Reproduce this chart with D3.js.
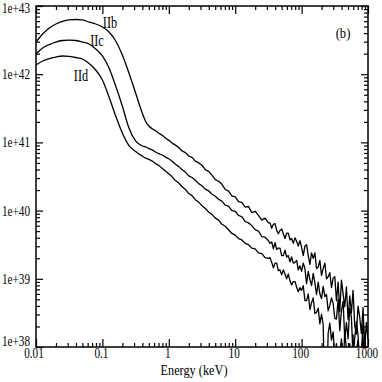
<!DOCTYPE html>
<html>
<head>
<meta charset="utf-8">
<script src="https://cdn.jsdelivr.net/npm/d3@7"></script>
<style>
  html, body { margin: 0; padding: 0; background: #fff; }
  text { font-family: "Liberation Serif", "DejaVu Serif", serif; }
</style>
</head>
<body>
<svg id="chart" width="382" height="382"></svg>
<script>
// Energy grid, log10(keV): coarse on the smooth part, finer where the curves get noisy
const logE = [
  -2, -1.9, -1.8, -1.7, -1.6, -1.5, -1.4, -1.3, -1.2, -1.1, -1, -0.9, -0.8, -0.7, -0.6, -0.5, -0.4,
  -0.35, -0.3, -0.25, -0.2, -0.15, -0.1, -0.05, 0,
  0.05, 0.1, 0.15, 0.2, 0.25, 0.3, 0.35, 0.4, 0.45, 0.5,
  0.55, 0.6, 0.65, 0.7, 0.75, 0.8, 0.85, 0.9, 0.95, 1,
  1.05, 1.1, 1.15, 1.2, 1.25, 1.3, 1.35, 1.4, 1.45, 1.5,
  1.525, 1.55, 1.575, 1.6, 1.625, 1.65, 1.675, 1.7, 1.725, 1.75,
  1.775, 1.8, 1.825, 1.85, 1.875, 1.9, 1.925, 1.95, 1.975, 2,
  2.025, 2.05, 2.075, 2.1, 2.125, 2.15, 2.175, 2.2, 2.225, 2.25,
  2.275, 2.3, 2.325, 2.35, 2.375, 2.4, 2.425, 2.45, 2.475, 2.5,
  2.525, 2.55, 2.575, 2.6, 2.625, 2.65, 2.675, 2.7, 2.725, 2.75,
  2.775, 2.8, 2.825, 2.85, 2.875, 2.9, 2.925, 2.95, 2.975, 3
];

// log10 luminosity of each model
const IIb = [
  42.472, 42.589, 42.677, 42.736, 42.773, 42.795, 42.802, 42.795, 42.765, 42.736, 42.692, 42.619, 42.487, 42.282, 42.018, 41.724, 41.431,
  41.31, 41.24, 41.20, 41.17, 41.135, 41.105, 41.065, 41.03,
  40.99, 40.96, 40.925, 40.875, 40.85, 40.80, 40.78, 40.725, 40.70, 40.665,
  40.60, 40.575, 40.52, 40.455, 40.43, 40.385, 40.31, 40.285, 40.215, 40.20,
  40.13, 40.12, 40.05, 40.06, 39.97, 39.99, 39.93, 39.86, 39.89, 39.82,
  39.82, 39.74, 39.80, 39.81, 39.71, 39.66, 39.71, 39.73, 39.66, 39.59,
  39.67, 39.67, 39.57, 39.59, 39.52, 39.60, 39.55, 39.48, 39.56, 39.46,
  39.34, 39.48, 39.50, 39.34, 39.21, 39.38, 39.30, 39.38, 39.15, 39.17,
  39.27, 39.05, 39.15, 39.23, 39.00, 39.03, 39.09, 38.87, 39.01, 39.03,
  38.68, 38.95, 38.52, 38.98, 38.78, 38.59, 38.88, 38.40, 38.75, 38.50,
  38.83, 38.31, 38.19, 38.60, 38.44, 38.20, 38.58, 37.97, 38.36, 38.11
];
const IIc = [
  42.296, 42.384, 42.435, 42.472, 42.494, 42.501, 42.494, 42.472, 42.443, 42.370, 42.267, 42.091, 41.827, 41.534, 41.211, 41.021, 40.947,
  40.935, 40.91, 40.89, 40.86, 40.835, 40.815, 40.785, 40.76,
  40.725, 40.68, 40.645, 40.60, 40.565, 40.51, 40.485, 40.445, 40.395, 40.365,
  40.315, 40.29, 40.24, 40.21, 40.165, 40.14, 40.08, 40.065, 40.00, 39.99,
  39.93, 39.91, 39.84, 39.82, 39.78, 39.72, 39.70, 39.62, 39.61, 39.56,
  39.52, 39.54, 39.44, 39.53, 39.43, 39.45, 39.45, 39.34, 39.34, 39.42,
  39.32, 39.34, 39.25, 39.32, 39.23, 39.24, 39.27, 39.13, 39.19, 39.11,
  39.23, 39.15, 38.93, 39.11, 38.99, 38.90, 39.08, 38.94, 38.77, 38.95,
  38.78, 38.71, 38.89, 38.74, 38.77, 38.53, 38.61, 38.72, 38.64, 38.42,
  38.41, 38.70, 38.24, 38.53, 38.67, 38.11, 38.36, 38.12, 38.57, 38.44,
  37.84, 38.13, 38.37, 38.17, 37.75, 37.89, 38.35, 38.14, 37.65, 38.01
];
const IId = [
  42.135, 42.194, 42.230, 42.252, 42.267, 42.260, 42.245, 42.223, 42.157, 42.062, 41.915, 41.666, 41.387, 41.138, 40.954, 40.867, 40.80,
  40.77, 40.75, 40.725, 40.69, 40.66, 40.62, 40.58, 40.54,
  40.495, 40.44, 40.405, 40.35, 40.31, 40.25, 40.22, 40.16, 40.125, 40.07,
  40.03, 39.98, 39.945, 39.89, 39.86, 39.80, 39.77, 39.72, 39.665, 39.64,
  39.59, 39.57, 39.52, 39.50, 39.45, 39.44, 39.38, 39.37, 39.31, 39.30,
  39.31, 39.24, 39.16, 39.23, 39.23, 39.12, 39.13, 39.06, 39.13, 39.07,
  39.00, 39.07, 38.97, 38.91, 38.96, 38.96, 38.88, 38.81, 38.87, 38.83,
  38.90, 38.68, 38.68, 38.78, 38.55, 38.65, 38.72, 38.49, 38.51, 38.57,
  38.34, 38.48, 38.33, 37.20, 37.20, 38.20, 38.35, 38.10, 38.22, 37.85,
  38.05, 37.40, 37.90, 38.12, 37.60, 38.25, 37.95, 37.40, 38.05, 37.70,
  38.18, 37.50, 37.95, 38.10, 37.40, 37.90, 38.15, 37.60, 38.00, 37.70
];

const seriesNames = ["IIb", "IIc", "IId"];
const xTickLabels = ["0.01", "0.1", "1", "10", "100", "1000"];
const yTickLabels = ["1e+38", "1e+39", "1e+40", "1e+41", "1e+42", "1e+43"];

// Plot frame
const frame = { left: 36, right: 368, top: 6, bottom: 347 };

const x = d3.scaleLog().domain([0.01, 1000]).range([frame.left, frame.right]);
const y = d3.scaleLog().domain([1e38, 1e43]).range([frame.bottom, frame.top]);

const svg = d3.select("#chart");

svg.append("clipPath").attr("id", "plotClip")
  .append("rect")
  .attr("x", frame.left).attr("y", frame.top)
  .attr("width", frame.right - frame.left).attr("height", frame.bottom - frame.top);

const isMajor = (v) => Math.abs(Math.log10(v) - Math.round(Math.log10(v))) < 1e-6;

// ticks point into the plot, majors longer than minors
function styleTicks(g, majorLen, minorLen, sign, horizontal) {
  g.select(".domain").remove();
  g.selectAll(".tick line")
    .attr(horizontal ? "y2" : "x2", (d) => sign * (isMajor(d) ? majorLen : minorLen))
    .attr("stroke", "#000")
    .attr("stroke-width", 1.2);
}

const xTicks = x.ticks();
const yTicks = y.ticks();

const gx = svg.append("g")
  .attr("transform", `translate(0,${frame.bottom})`)
  .call(d3.axisBottom(x).tickValues(xTicks).tickSize(0).tickFormat(() => ""));
styleTicks(gx, 8, 4, -1, true);

const gxt = svg.append("g")
  .attr("transform", `translate(0,${frame.top})`)
  .call(d3.axisTop(x).tickValues(xTicks).tickSize(0).tickFormat(() => ""));
styleTicks(gxt, 8, 4, 1, true);

const gy = svg.append("g")
  .attr("transform", `translate(${frame.left},0)`)
  .call(d3.axisLeft(y).tickValues(yTicks).tickSize(0).tickFormat(() => ""));
styleTicks(gy, 7, 4, 1, false);

const gyr = svg.append("g")
  .attr("transform", `translate(${frame.right},0)`)
  .call(d3.axisRight(y).tickValues(yTicks).tickSize(0).tickFormat(() => ""));
styleTicks(gyr, 7, 4, -1, false);

svg.append("rect")
  .attr("x", frame.left).attr("y", frame.top)
  .attr("width", frame.right - frame.left).attr("height", frame.bottom - frame.top)
  .attr("fill", "none").attr("stroke", "#000").attr("stroke-width", 1.5);

// condensed serif text, like the original
function label(txt, px, py, size, sx, anchor) {
  svg.append("text")
    .attr("transform", `translate(${px},${py}) scale(${sx},1)`)
    .attr("text-anchor", anchor)
    .attr("fill", "#000")
    .style("font-size", size + "px")
    .text(txt);
}

xTickLabels.forEach((t, i) => {
  const px = i === 0 ? x(+t) - 2 : x(+t) - 1;
  label(t, px, 358, 14, 0.8, "middle");
});

yTickLabels.forEach((t, i) => {
  let py = y(Math.pow(10, 38 + i)) + 5;
  py = Math.min(Math.max(py, 13), 346);
  label(t, 30, py, 14, 0.8, "end");
});

label("Energy (keV)", 194, 375, 15, 0.82, "middle");
label("(b)", 343, 38, 14, 0.9, "middle");

// Curves: smooth low-energy part drawn with a monotone curve, the noisy tail straight
const splitAt = logE.indexOf(0);
const smoothLine = d3.line()
  .x((d) => x(Math.pow(10, d[0])))
  .y((d) => y(Math.pow(10, d[1])))
  .curve(d3.curveMonotoneX);
const noisyLine = d3.line()
  .x((d) => x(Math.pow(10, d[0])))
  .y((d) => y(Math.pow(10, d[1])));

const plot = svg.append("g").attr("clip-path", "url(#plotClip)");
[IIb, IIc, IId].forEach((vals) => {
  const pts = logE.map((e, i) => [e, vals[i]]);
  const d = smoothLine(pts.slice(0, splitAt + 1)) + noisyLine(pts.slice(splitAt)).replace(/^M/, "L");
  plot.append("path")
    .attr("d", d)
    .attr("fill", "none")
    .attr("stroke", "#000")
    .attr("stroke-width", 1.3)
    .attr("stroke-linejoin", "round");
});

const labelPos = [[110, 28], [97, 46], [81, 81]];
seriesNames.forEach((n, i) => {
  label(n, labelPos[i][0], labelPos[i][1], 17, 0.72, "middle");
});
</script>
</body>
</html>
